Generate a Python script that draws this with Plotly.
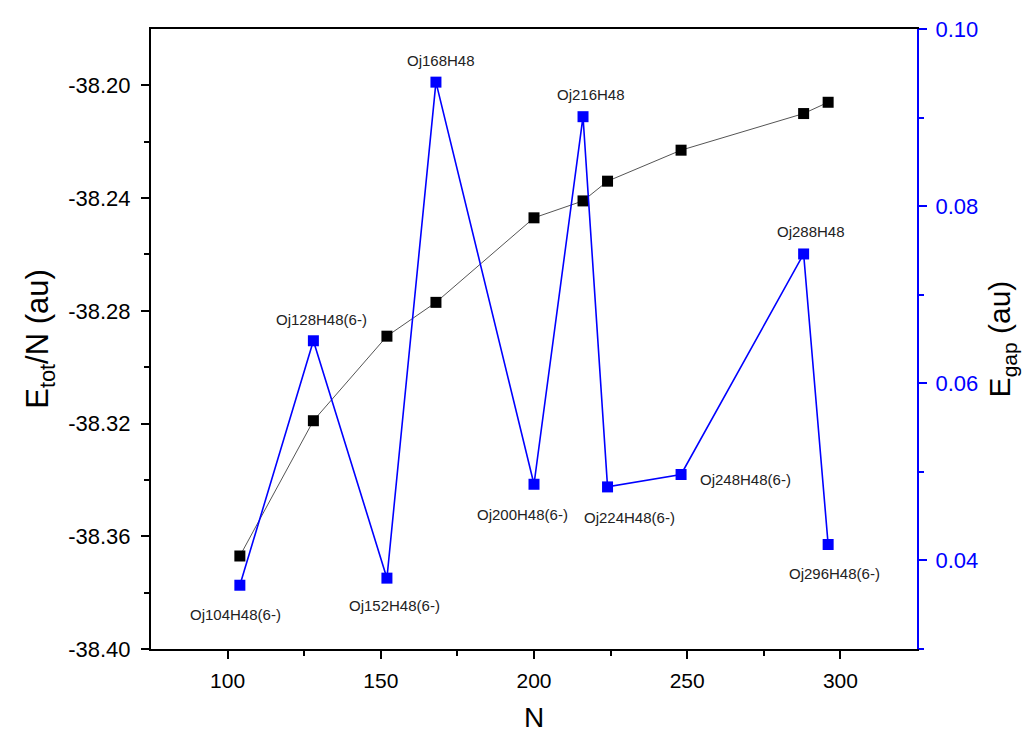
import plotly.graph_objects as go

# Cluster sizes and computed energies
n_atoms = [104, 128, 152, 168, 200, 216, 224, 248, 288, 296]
etot_per_n = [-38.367, -38.319, -38.289, -38.277, -38.247, -38.241, -38.234, -38.223, -38.210, -38.206]
e_gap = [0.0372, 0.0648, 0.0380, 0.0940, 0.0486, 0.0901, 0.0483, 0.0497, 0.0746, 0.0418]
labels = ["Oj104H48(6-)", "Oj128H48(6-)", "Oj152H48(6-)", "Oj168H48", "Oj200H48(6-)",
          "Oj216H48", "Oj224H48(6-)", "Oj248H48(6-)", "Oj288H48", "Oj296H48(6-)"]
# label placement relative to each gap marker: (xshift, yshift) in px
label_offsets = [(-4, -29), (8, 21), (8, -27), (5, 22), (-12, -30), (8, 22), (22, -31), (64, -5), (7, 22), (6, -29)]

left_ticks = [-38.40, -38.36, -38.32, -38.28, -38.24, -38.20]
right_ticks = [0.04, 0.06, 0.08, 0.10]
x_ticks = [100, 150, 200, 250, 300]

FONT = "Liberation Sans, Arial, sans-serif"
BLUE = "#0000ff"

fig = go.Figure()
fig.add_trace(go.Scatter(
    x=n_atoms, y=etot_per_n, mode="lines+markers",
    line=dict(color="#555555", width=1),
    marker=dict(symbol="square", size=11, color="black"),
    showlegend=False,
))
fig.add_trace(go.Scatter(
    x=n_atoms, y=e_gap, mode="lines+markers", yaxis="y2",
    line=dict(color=BLUE, width=1.6),
    marker=dict(symbol="square", size=11, color=BLUE),
    showlegend=False,
))

for n, g, lab, (dx, dy) in zip(n_atoms, e_gap, labels, label_offsets):
    fig.add_annotation(x=n, y=g, xref="x", yref="y2", text=lab, showarrow=False,
                       xshift=dx, yshift=dy, font=dict(family=FONT, size=15, color="#222222"))

fig.update_layout(
    width=1034, height=740,
    margin=dict(l=151, r=117, t=29, b=87),
    paper_bgcolor="white", plot_bgcolor="white",
    font=dict(family=FONT, color="black"),
    xaxis=dict(
        range=[75, 325], tickvals=x_ticks, ticktext=[str(v) for v in x_ticks],
        ticks="outside", ticklen=8, tickwidth=2, tickcolor="black",
        minor=dict(tickvals=[125, 175, 225, 275], ticks="outside", ticklen=5, tickwidth=2, tickcolor="black"),
        showline=True, linecolor="black", linewidth=2, mirror=True,
        showgrid=False, zeroline=False, ticklabelstandoff=4,
        tickfont=dict(size=21, family=FONT, color="black"),
        title=dict(text="N", font=dict(size=28, family=FONT), standoff=16),
    ),
    yaxis=dict(
        range=[-38.40, -38.18], tickvals=left_ticks, ticktext=["%.2f" % v for v in left_ticks],
        ticks="outside", ticklen=8, tickwidth=2, tickcolor="black",
        minor=dict(tickvals=[-38.38, -38.34, -38.30, -38.26, -38.22], ticks="outside", ticklen=5, tickwidth=2, tickcolor="black"),
        showline=True, linecolor="black", linewidth=2,
        showgrid=False, zeroline=False, ticklabelstandoff=6,
        tickfont=dict(size=22, family=FONT, color="black"),
        title=dict(text="E<sub>tot</sub>/N (au)", font=dict(size=31, family=FONT), standoff=10),
    ),
    yaxis2=dict(
        overlaying="y", side="right", anchor="x",
        range=[0.03, 0.10], tickvals=right_ticks, ticktext=["%.2f" % v for v in right_ticks],
        ticks="outside", ticklen=8, tickwidth=2, tickcolor=BLUE,
        minor=dict(tickvals=[0.03, 0.05, 0.07, 0.09], ticks="outside", ticklen=5, tickwidth=2, tickcolor=BLUE),
        showline=True, linecolor=BLUE, linewidth=2,
        showgrid=False, zeroline=False, ticklabelstandoff=4,
        tickfont=dict(size=22, family=FONT, color=BLUE),
        title=dict(text="E<sub>gap</sub> (au)", font=dict(size=30, family=FONT, color="black"), standoff=12),
    ),
)

fig.write_html("out.html")
